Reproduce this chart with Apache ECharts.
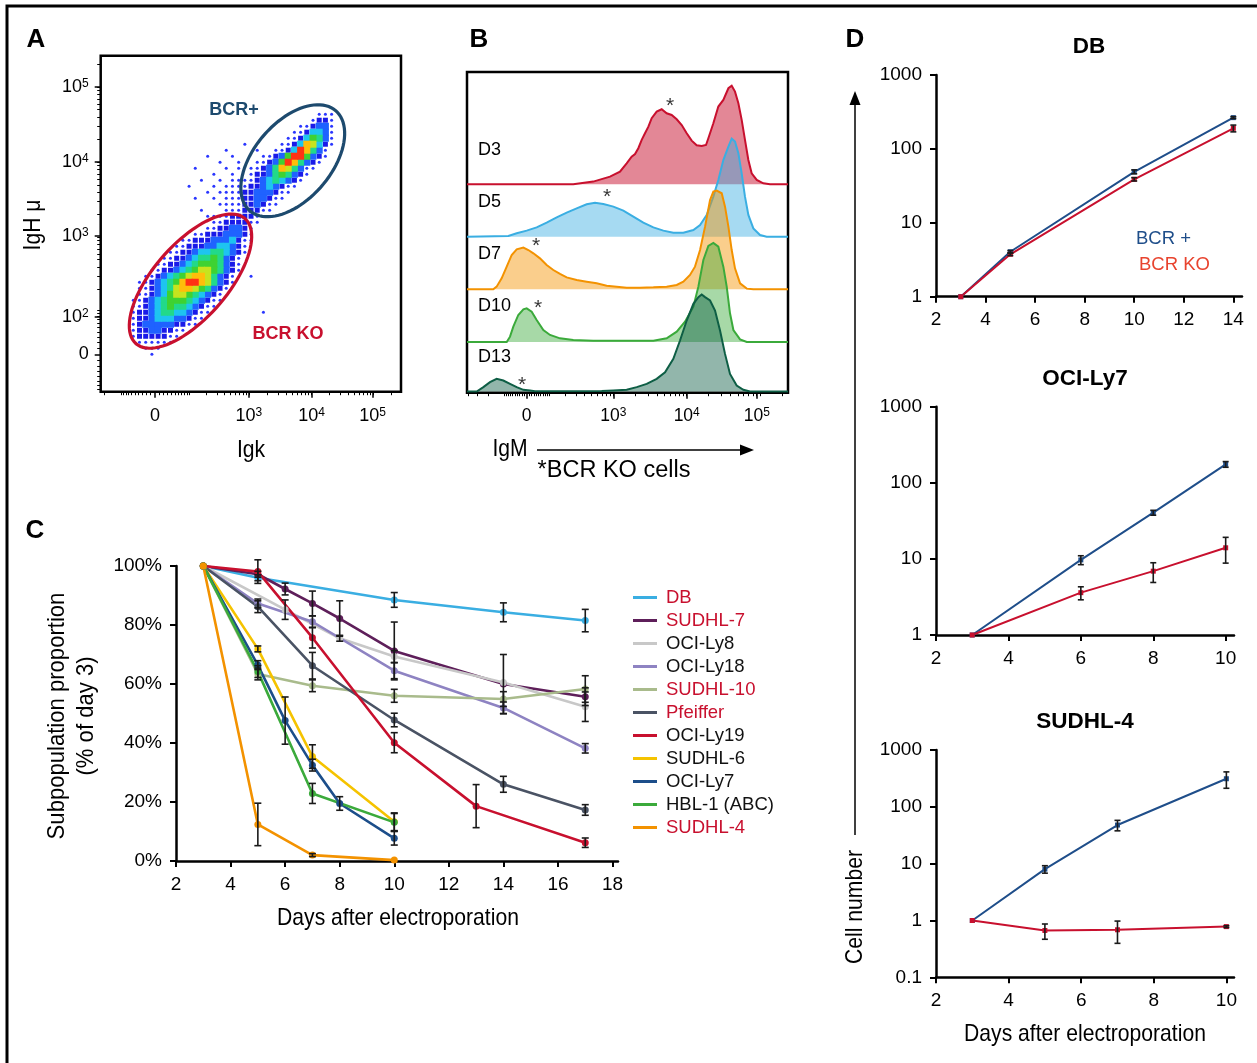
<!DOCTYPE html>
<html><head><meta charset="utf-8">
<script src="https://cdn.jsdelivr.net/npm/echarts@6/dist/echarts.min.js"></script>
<style>html,body{margin:0;padding:0;background:#fff}#c{width:1257px;height:1063px}</style>
</head><body><div id="c"></div>
<script>
const FONT = "'Liberation Sans', Arial, Helvetica, sans-serif";

// ================= Panel A (flow plot, biexponential display units) =================
const A_X_TICK_POS = [0, 1.516, 2.527, 3.51];
const A_X_TICK_LABELS = ['0', '10{s|3}', '10{s|4}', '10{s|5}'];
const A_Y_TICK_POS = [0, 0.501, 1.577, 2.568, 3.568];
const A_Y_TICK_LABELS = ['0', '10{s|2}', '10{s|3}', '10{s|4}', '10{s|5}'];
// density grid: [row, firstColumn, levels 1-9]
const A_CELL_X0 = -0.45, A_CELL_DX = 0.1, A_CELL_Y0 = 3.44, A_CELL_DY = 0.08;
const A_DENSITY_ROWS = [
 [3,31,'111'],[4,30,'1221'],[5,28,'112331'],[6,27,'1124431'],[7,26,'11246531'],
 [8,25,'112487421'],[9,24,'112498531'],[10,22,'11236996321'],[11,21,'11236985321'],
 [12,20,'11235875311'],[13,20,'1223565321'],[14,19,'1123454321'],[15,19,'122343211'],
 [16,18,'122333211'],[17,18,'12233211'],[18,18,'1223211'],[19,18,'122211'],
 [20,15,'1122221'],[21,14,'11222211'],[22,13,'11223321'],[23,11,'1122233321'],
 [24,9,'11222333421'],[25,8,'112223344321'],[26,7,'1122344554321'],[27,6,'1122345565321'],
 [28,5,'11223456665321'],[29,4,'112234567765321'],[30,3,'112345678875321'],
 [31,2,'1123456899875321'],[32,2,'112345788765321'],[33,2,'11234677654321'],
 [34,1,'112345666543211'],[35,1,'11234565543211'],[36,1,'1223455443211'],
 [37,1,'122344433211'],[38,1,'12333332211'],[39,1,'122332211'],[40,1,'12222211'],
 [41,2,'111111'],[42,3,'111'],[43,4,'1']
];
const A_SPARSE = [[16,9],[13,10],[17,10],[15,11],[18,11],[11,12],[16,12],[18,12],[14,13],[17,13],
 [12,14],[15,14],[17,14],[18,14],[10,15],[14,15],[16,15],[17,15],[18,15],[13,16],[15,16],[16,16],
 [17,16],[11,17],[14,17],[16,17],[17,17],[15,18],[16,18],[17,18],[12,19],[16,19],[17,19],[13,20],
 [14,20],[20,30],[22,36],[20,24],[19,8],[21,9]];
// gates: centre, end of first semi-axis, end of second semi-axis (display units)
const A_GATE_BCR = [2.223, 2.58, 2.916, 3.247, 2.694, 2.245];
const A_GATE_KO  = [0.573, 0.975, 1.452, 1.809, 1.023, 0.651];

// ================= Panel B (histograms, [display unit, % of mode]) =================
const B_TICK_POS = [0, 1.18, 2.18, 3.134];
const B_TICK_LABELS = ['0', '10{s|3}', '10{s|4}', '10{s|5}'];
const B_NAMES = ['D3', 'D5', 'D7', 'D10', 'D13'];
const B_D3 = [[-0.82,0],[0.635,0],[0.907,2.7],[1.135,7.7],[1.271,12.8],[1.362,21.2],[1.43,27.9],[1.476,30.6],[1.521,36.4],[1.567,44.8],[1.612,51.5],[1.658,58.2],[1.703,66.7],[1.771,73.4],[1.839,75.8],[1.907,71.7],[1.975,70.0],[2.044,65.7],[2.112,59.9],[2.18,51.5],[2.248,44.1],[2.316,39.4],[2.384,38.7],[2.443,39.7],[2.475,46.5],[2.543,61.6],[2.611,78.5],[2.679,85.2],[2.748,97.0],[2.793,99.5],[2.838,93.6],[2.884,81.8],[2.929,65.0],[2.974,44.8],[3.02,24.6],[3.065,11.1],[3.134,4.4],[3.224,1.0],[3.315,0],[3.57,0]];
const B_D5 = [[-0.82,0],[-0.25,0.7],[-0.136,3.4],[0,6.1],[0.136,9.4],[0.272,14.1],[0.409,19.5],[0.545,24.2],[0.681,28.6],[0.817,32.7],[0.931,34.3],[1.044,33.0],[1.181,30.3],[1.317,26.3],[1.453,20.2],[1.589,14.1],[1.726,9.4],[1.862,6.1],[1.998,4.0],[2.134,4.0],[2.271,6.7],[2.362,11.8],[2.452,21.9],[2.543,40.4],[2.611,57.2],[2.679,77.4],[2.748,90.9],[2.793,99.0],[2.838,96.0],[2.884,84.2],[2.929,64.0],[2.974,40.4],[3.02,21.9],[3.088,8.4],[3.179,1.7],[3.27,0],[3.57,0]];
const B_D7 = [[-0.82,0],[-0.455,0],[-0.409,2.7],[-0.341,11.1],[-0.272,22.9],[-0.204,34.7],[-0.136,40.4],[-0.045,42.1],[0.023,39.7],[0.091,36.4],[0.181,31.3],[0.272,24.6],[0.363,19.5],[0.454,15.5],[0.545,12.1],[0.681,9.4],[0.817,7.7],[0.954,6.1],[1.09,3.7],[1.226,2.7],[1.362,1.7],[1.544,1.7],[1.726,2.0],[1.907,2.7],[2.044,4.4],[2.134,7.7],[2.225,14.5],[2.293,22.9],[2.362,39.7],[2.43,63.3],[2.498,90.2],[2.543,98.7],[2.589,99.7],[2.657,97.0],[2.702,83.5],[2.748,63.3],[2.793,39.7],[2.838,21.2],[2.907,6.1],[2.998,0.7],[3.088,0],[3.57,0]];
const B_D10 = [[-0.82,0],[-0.272,0],[-0.227,5.4],[-0.182,15.5],[-0.114,27.3],[-0.045,33.0],[0,34.0],[0.068,30.6],[0.136,22.2],[0.227,12.1],[0.318,7.1],[0.454,3.7],[0.635,2.0],[0.907,1.3],[1.362,1.3],[1.726,1.3],[1.907,3.7],[2.044,10.4],[2.157,20.5],[2.271,35.7],[2.339,55.9],[2.407,82.8],[2.475,97.0],[2.543,100],[2.611,96.3],[2.679,76.1],[2.725,55.9],[2.77,29.0],[2.816,12.1],[2.907,2.7],[2.998,0],[3.57,0]];
const B_D13 = [[-0.82,0],[-0.681,0],[-0.59,4.4],[-0.5,9.4],[-0.409,12.8],[-0.318,11.1],[-0.227,7.7],[-0.136,4.4],[-0.045,1.7],[0.045,1.0],[0.114,0.3],[1.022,0.5],[1.181,1.0],[1.362,1.7],[1.499,4.4],[1.635,7.7],[1.771,12.8],[1.885,19.5],[1.998,33.0],[2.089,51.5],[2.18,71.7],[2.271,88.6],[2.339,95.3],[2.384,98.0],[2.43,95.3],[2.498,91.9],[2.566,81.8],[2.634,61.6],[2.702,38.0],[2.77,17.8],[2.861,6.1],[2.952,1.7],[3.043,0],[3.57,0]];
const B_STARS = [[1.952,84.1],[1.094,45.2],[0.127,48.8],[0.154,39.4],[-0.064,11.6]];

// ================= Panel C ([day, % of day 3, error]) =================
const C_X_TICKS = [2,4,6,8,10,12,14,16,18];
const C_NAMES = ['DB','SUDHL-7','OCI-Ly8','OCI-Ly18','SUDHL-10','Pfeiffer','OCI-Ly19','SUDHL-6','OCI-Ly7','HBL-1 (ABC)','SUDHL-4'];
const C_DB       = [[3,100,0],[5,96,1],[10,88.5,2.5],[14,84.3,3.2],[17,81.5,3.8]];
const C_SUDHL7   = [[3,100,0],[5,97.2,1],[6,92.2,2],[7,87.3,4.2],[8,82.2,6],[10,71.2,9.8],[14,60,10],[17,55.7,3]];
const C_OCILY8   = [[3,100,0],[6,85.2,3.3],[8,75.5,1],[10,69.3,2],[14,60.5,0],[17,52.3,5]];
const C_OCILY18  = [[3,100,0],[5,87.3,1.5],[7,81.1,2],[10,64.5,2.7],[14,51.9,2],[17,38.2,1.6]];
const C_SUDHL10  = [[3,100,0],[5,63.4,2],[7,59.4,2],[10,56,2.2],[14,54.9,2.5],[17,58.3,4.5]];
const C_PFEIFFER = [[3,100,0],[5,86.2,2],[7,66.2,4.5],[10,47.8,2.3],[14,26,2.7],[17,17.3,1.8]];
const C_OCILY19  = [[3,100,0],[5,98.1,4],[7,75.7,3.5],[10,40.1,3.4],[13,18.6,7.3],[17,6.2,1.6]];
const C_SUDHL6   = [[3,100,0],[5,71.9,1],[7,35.4,4],[10,13.3,3]];
const C_OCILY7   = [[3,100,0],[5,66.4,1.5],[6,47.6,8],[7,32.5,2],[8,19.5,2.3],[10,7.7,2.3]];
const C_HBL1     = [[3,100,0],[5,64.2,2],[7,22.9,3.4],[10,13.1,3]];
const C_SUDHL4   = [[3,100,0],[5,12.4,7.2],[7,2,0.5],[10,0.3,0]];

// ================= Panel D ([day, cell number, error]) =================
const D_DB_BCR   = [[3,1,0],[5,4.06,0.15],[10,49,3],[14,265,8]];
const D_DB_KO    = [[3,1,0],[5,3.75,0.15],[10,38.8,2],[14,190,20]];
const D_LY7_BCR  = [[3,1,0],[6,9.7,1.3],[8,40.5,3],[10,175,15]];
const D_LY7_KO   = [[3,1,0],[6,3.6,0.7],[8,6.9,2],[10,14,5.2]];
const D_DHL4_BCR = [[3,1,0],[5,8,1.2],[7,47.8,10],[10,312,100]];
const D_DHL4_KO  = [[3,1,0],[5,0.667,0.2],[7,0.686,0.29],[10,0.78,0.03]];
const D_X_TICKS_14 = [2,4,6,8,10,12,14];
const D_X_TICKS_10 = [2,4,6,8,10];

// ================= styles =================
const C_COLORS = ['#3aaee2','#5e1f5a','#c8c8c8','#8e83c2','#a9bb8c','#4a5364','#c8102e','#f5c300','#1c4e8a','#3baa3b','#f39200'];
const C_TEXT_COLORS = ['#c8102e','#c8102e','#111','#111','#c8102e','#c8102e','#111','#111','#111','#111','#c8102e'];
const B_LINE = ['#c8102e','#3aaee2','#f39200','#3baa3b','#0e5e45'];
const B_FILL = ['rgba(200,16,46,0.5)','rgba(58,174,226,0.45)','rgba(243,146,0,0.45)','rgba(59,170,59,0.45)','rgba(14,94,69,0.45)'];
const B_OFFSET = [210.5, 157.6, 104.4, 51.2, 1.2];
const A_LEVEL_COLORS = [null,'#2a36ff','#1a1ae8','#1f62ff','#1ec4f0','#22d98a','#3ed232','#c6e41e','#ffbe0a','#ff3214'];
const A_LEVEL_SIZE = [0,3,5,7,7,7,7,7,7,7];
const BLUE = '#1f4e8a', RED = '#c8102e';

// ---------- helpers ----------
const biex = (v, C) => Math.asinh(v / C) / Math.LN10;
function minorTicks(C, lo, hi) {
  const out = [];
  [1e1,1e2,1e3,1e4,1e5].forEach(d => { for (let m = 1; m <= 9; m++) { out.push(biex(m*d, C), biex(-m*d, C)); } });
  return out.filter(u => u > lo && u < hi);
}
function pick(pos, labels) {
  return v => { let bi = 0, bd = 1e9; pos.forEach((p, i) => { const d = Math.abs(p - v); if (d < bd) { bd = d; bi = i; } }); return labels[bi]; };
}
const SUP = { s: { fontSize: 12, verticalAlign: 'top', fontFamily: FONT, color: '#000' } };
function errRender(cap) {
  return function (params, api) {
    const x = api.value(0), lo = api.value(1), hi = api.value(2);
    const a = api.coord([x, lo]), b = api.coord([x, hi]);
    const st = { stroke: '#1a1a1a', lineWidth: 1.6 };
    return { type: 'group', children: [
      { type: 'line', shape: { x1: a[0], y1: a[1], x2: b[0], y2: b[1] }, style: st },
      { type: 'line', shape: { x1: a[0]-cap, y1: a[1], x2: a[0]+cap, y2: a[1] }, style: st },
      { type: 'line', shape: { x1: b[0]-cap, y1: b[1], x2: b[0]+cap, y2: b[1] }, style: st }
    ]};
  };
}
const errData = arrs => { const o = []; arrs.forEach(a => a.forEach(d => { if (d[2] > 0) o.push([d[0], Math.max(d[1]-d[2], 1e-6), d[1]+d[2]]); })); return o; };

// ---------- Panel A density data ----------
const aData = [];
A_DENSITY_ROWS.forEach(([r, c0, s]) => { for (let k = 0; k < s.length; k++) { const lv = +s[k]; if (lv > 0) aData.push([A_CELL_X0 + (c0+k)*A_CELL_DX, A_CELL_Y0 - r*A_CELL_DY, lv]); } });
A_SPARSE.forEach(([c, r]) => aData.push([A_CELL_X0 + c*A_CELL_DX, A_CELL_Y0 - r*A_CELL_DY, 1]));
aData.sort((p, q) => p[2] - q[2]);

const B_CURVES = [B_D3, B_D5, B_D7, B_D10, B_D13];
const C_SERIES = [C_DB, C_SUDHL7, C_OCILY8, C_OCILY18, C_SUDHL10, C_PFEIFFER, C_OCILY19, C_SUDHL6, C_OCILY7, C_HBL1, C_SUDHL4];

// ---------- axes ----------
const noSplit = { show: false };
const blk = (w) => ({ color: '#000', width: w });
const hideLine = { show: false, onZero: false };
const xAxes = [
  // 0 A major
  { gridIndex: 0, type: 'value', position: 'bottom', min: -0.876, max: 3.97, axisLine: hideLine, splitLine: noSplit,
    axisTick: { show: true, length: 6, customValues: A_X_TICK_POS, lineStyle: blk(1.5) },
    axisLabel: { customValues: A_X_TICK_POS, formatter: pick(A_X_TICK_POS, A_X_TICK_LABELS), margin: 15, fontSize: 18, color: '#000', fontFamily: FONT, rich: SUP } },
  // 1 A minor
  { gridIndex: 0, type: 'value', position: 'bottom', min: -0.876, max: 3.97, axisLine: hideLine, splitLine: noSplit,
    axisTick: { show: true, length: 3.5, customValues: minorTicks(61, -0.876, 3.97), lineStyle: blk(1) }, axisLabel: { show: false } },
  // 2 B major
  { gridIndex: 1, type: 'value', position: 'bottom', min: -0.813, max: 3.56, axisLine: hideLine, splitLine: noSplit,
    axisTick: { show: true, length: 6, customValues: B_TICK_POS, lineStyle: blk(1.5) },
    axisLabel: { customValues: B_TICK_POS, formatter: pick(B_TICK_POS, B_TICK_LABELS), margin: 14, fontSize: 17.5, color: '#000', fontFamily: FONT, rich: SUP } },
  // 3 B minor
  { gridIndex: 1, type: 'value', position: 'bottom', min: -0.813, max: 3.56, axisLine: hideLine, splitLine: noSplit,
    axisTick: { show: true, length: 3.5, customValues: minorTicks(133, -0.813, 3.56), lineStyle: blk(1) }, axisLabel: { show: false } },
  // 4 C
  { gridIndex: 2, type: 'value', min: 2, max: 18.2, splitLine: noSplit, axisLine: { onZero: false, lineStyle: blk(2.5) },
    axisTick: { length: 6, customValues: C_X_TICKS, lineStyle: blk(2) },
    axisLabel: { customValues: C_X_TICKS, margin: 14, fontSize: 19, color: '#000', fontFamily: FONT } },
  // 5-7 D
  { gridIndex: 3, type: 'value', min: 2, max: 14.35, splitLine: noSplit, axisLine: { onZero: false, lineStyle: blk(2.5) },
    axisTick: { length: 6, customValues: D_X_TICKS_14, lineStyle: blk(2) },
    axisLabel: { customValues: D_X_TICKS_14, margin: 14, fontSize: 19, color: '#000', fontFamily: FONT } },
  { gridIndex: 4, type: 'value', min: 2, max: 10.23, splitLine: noSplit, axisLine: { onZero: false, lineStyle: blk(2.5) },
    axisTick: { length: 6, customValues: D_X_TICKS_10, lineStyle: blk(2) },
    axisLabel: { customValues: D_X_TICKS_10, margin: 14, fontSize: 19, color: '#000', fontFamily: FONT } },
  { gridIndex: 5, type: 'value', min: 2, max: 10.21, splitLine: noSplit, axisLine: { onZero: false, lineStyle: blk(2.5) },
    axisTick: { length: 6, customValues: D_X_TICKS_10, lineStyle: blk(2) },
    axisLabel: { customValues: D_X_TICKS_10, margin: 14, fontSize: 19, color: '#000', fontFamily: FONT } }
];
const logFmt = v => (v < 1 ? String(Math.round(v*10)/10) : String(Math.round(v)));
const dLogY = (gi, mn) => ({ gridIndex: gi, type: 'log', logBase: 10, min: mn, max: 1000, splitLine: noSplit,
  axisLine: { onZero: false, lineStyle: blk(2.5) }, axisTick: { length: 6, lineStyle: blk(2) }, minorTick: { show: false },
  axisLabel: { formatter: logFmt, margin: 14, fontSize: 19, color: '#000', fontFamily: FONT } });
const yAxes = [
  // 0 A major
  { gridIndex: 0, type: 'value', position: 'left', min: -0.499, max: 3.98, axisLine: hideLine, splitLine: noSplit,
    axisTick: { show: true, length: 6, customValues: A_Y_TICK_POS, lineStyle: blk(1.5) },
    axisLabel: { customValues: A_Y_TICK_POS, formatter: pick(A_Y_TICK_POS, A_Y_TICK_LABELS), margin: 12, fontSize: 18, color: '#000', fontFamily: FONT, rich: SUP } },
  // 1 A minor
  { gridIndex: 0, type: 'value', position: 'left', min: -0.499, max: 3.98, axisLine: hideLine, splitLine: noSplit,
    axisTick: { show: true, length: 3.5, customValues: minorTicks(55, -0.499, 3.98), lineStyle: blk(1) }, axisLabel: { show: false } },
  // 2 B
  { gridIndex: 1, type: 'value', min: 0, max: 323.9, show: false },
  // 3 C
  { gridIndex: 2, type: 'value', min: 0, max: 100, interval: 20, splitLine: noSplit, axisLine: { show: true, onZero: false, lineStyle: blk(2.5) },
    axisTick: { show: true, length: 6, lineStyle: blk(2) },
    axisLabel: { formatter: v => v + '%', margin: 14, fontSize: 19, color: '#000', fontFamily: FONT } },
  dLogY(3, 1), dLogY(4, 1), dLogY(5, 0.1)
];

// ---------- series ----------
const series = [];
series.push({ type: 'scatter', xAxisIndex: 0, yAxisIndex: 0, data: aData, z: 2, silent: true,
  symbol: v => (v[2] <= 1 ? 'circle' : 'rect'), symbolSize: v => A_LEVEL_SIZE[v[2]],
  itemStyle: { color: p => A_LEVEL_COLORS[p.value[2]], opacity: 1 } });
const GATE_COLORS = ['#1d4a6e', '#c8102e'];
series.push({ type: 'custom', xAxisIndex: 0, yAxisIndex: 0, data: [A_GATE_BCR, A_GATE_KO], encode: { x: [0,2,4], y: [1,3,5] }, z: 4, silent: true,
  renderItem: (params, api) => {
    const c = api.coord([api.value(0), api.value(1)]), p1 = api.coord([api.value(2), api.value(3)]), p2 = api.coord([api.value(4), api.value(5)]);
    const pts = [];
    for (let k = 0; k <= 90; k++) { const t = k / 90 * 2 * Math.PI, ct = Math.cos(t), st = Math.sin(t);
      pts.push([c[0] + ct*(p1[0]-c[0]) + st*(p2[0]-c[0]), c[1] + ct*(p1[1]-c[1]) + st*(p2[1]-c[1])]); }
    return { type: 'polygon', shape: { points: pts }, style: { fill: 'none', stroke: GATE_COLORS[params.dataIndex], lineWidth: 3.2 } };
  } });
series.push({ type: 'custom', xAxisIndex: 2, yAxisIndex: 2, clip: true, silent: true, z: 2,
  data: B_NAMES.map((n, i) => [0, B_OFFSET[i], i]), encode: { x: 0, y: 1 },
  renderItem: (params, api) => {
    const i = params.dataIndex, off = B_OFFSET[i];
    const pts = B_CURVES[i].map(([u, h]) => api.coord([u, off + h]));
    return { type: 'group', children: [
      { type: 'polygon', shape: { points: pts }, style: { fill: B_FILL[i] } },
      { type: 'polyline', shape: { points: pts }, style: { fill: 'none', stroke: B_LINE[i], lineWidth: 2 } }
    ]};
  } });
series.push({ type: 'scatter', xAxisIndex: 2, yAxisIndex: 2, silent: true, z: 5, symbolSize: 0,
  data: B_STARS.map(([u, h], i) => [u, B_OFFSET[i] + h]),
  label: { show: true, position: 'inside', formatter: '*', fontSize: 21, color: '#000', fontFamily: FONT, offset: [0, 5] } });
C_SERIES.forEach((arr, i) => series.push({ type: 'line', name: C_NAMES[i], xAxisIndex: 4, yAxisIndex: 3, z: 3,
  data: arr.map(d => [d[0], d[1]]), symbol: 'circle', symbolSize: 7, showSymbol: true,
  lineStyle: { width: 2.6, color: C_COLORS[i] }, itemStyle: { color: C_COLORS[i] } }));
series.push({ type: 'custom', xAxisIndex: 4, yAxisIndex: 3, z: 4, silent: true, data: errData(C_SERIES), encode: { x: 0, y: [1,2] }, renderItem: errRender(3.5) });
const dPanels = [[D_DB_BCR, D_DB_KO, 5, 4], [D_LY7_BCR, D_LY7_KO, 6, 5], [D_DHL4_BCR, D_DHL4_KO, 7, 6]];
dPanels.forEach(([bcr, ko, xi, yi], k) => {
  [[bcr, BLUE, 'BCR+ ' + k], [ko, RED, 'BCR KO ' + k]].forEach(([arr, col, nm]) => series.push({ type: 'line', name: nm, xAxisIndex: xi, yAxisIndex: yi, z: 3,
    data: arr.map(d => [d[0], d[1]]), symbol: 'rect', symbolSize: 5, lineStyle: { width: 2, color: col }, itemStyle: { color: col } }));
  series.push({ type: 'custom', xAxisIndex: xi, yAxisIndex: yi, z: 4, silent: true, data: errData([bcr, ko]), encode: { x: 0, y: [1,2] }, renderItem: errRender(3) });
});

// ---------- text / decorations ----------
function T(text, x, y, o) {
  o = o || {};
  return { type: 'text', x: x, y: y, rotation: o.rot || 0, scaleX: o.sx || 1, z: 20, silent: true,
    style: { text: text, fill: o.color || '#000', fontSize: o.size || 18, fontFamily: FONT, fontWeight: o.bold ? 'bold' : 'normal',
      align: o.align || 'center', verticalAlign: 'middle', lineHeight: o.lh || undefined } };
}
const R90 = Math.PI / 2, NX = 0.88;
const graphic = [
  { type: 'polyline', z: 20, silent: true, shape: { points: [[7, 1063], [7, 6], [1257, 6]] }, style: { stroke: '#000', lineWidth: 3, fill: 'none' } },
  T('A', 36, 40, { size: 26, bold: true }), T('B', 479, 40, { size: 26, bold: true }),
  T('C', 35, 531, { size: 26, bold: true }), T('D', 855, 40, { size: 26, bold: true }),
  // A
  T('Igk', 251, 450, { size: 24, sx: NX }), T('IgH \u03bc', 33, 225, { size: 24, sx: NX, rot: R90 }),
  T('BCR+', 234, 110, { size: 18, bold: true, color: '#1d4a6e' }), T('BCR KO', 288, 334, { size: 18, bold: true, color: '#c8102e' }),
  // B
  T('D3', 478, 150, { align: 'left' }), T('D5', 478, 202, { align: 'left' }), T('D7', 478, 254, { align: 'left' }),
  T('D10', 478, 306, { align: 'left' }), T('D13', 478, 357, { align: 'left' }),
  T('IgM', 510, 449, { size: 24, sx: NX }),
  { type: 'line', z: 20, silent: true, shape: { x1: 537, y1: 450, x2: 745, y2: 450 }, style: { stroke: '#000', lineWidth: 1.5 } },
  { type: 'polygon', z: 20, silent: true, shape: { points: [[754, 450], [740, 444.5], [740, 455.5]] }, style: { fill: '#000' } },
  T('*BCR KO cells', 614, 471, { size: 23.5 }),
  // C
  T('Subpopulation proportion\n(% of day 3)', 72, 716, { size: 24, sx: 0.92, rot: R90, lh: 29 }),
  T('Days after electroporation', 398, 918, { size: 24, sx: NX }),
  // D
  T('DB', 1089, 47, { size: 22.5, bold: true }), T('OCI-Ly7', 1085, 379, { size: 22.5, bold: true }), T('SUDHL-4', 1085, 722, { size: 22.5, bold: true }),
  T('BCR +', 1136, 239, { size: 18.5, align: 'left', color: '#1f4e8a' }), T('BCR KO', 1139, 265, { size: 18.5, align: 'left', color: '#e8432e' }),
  T('Cell number', 855, 907, { size: 24, sx: NX, rot: R90 }),
  { type: 'line', z: 20, silent: true, shape: { x1: 855, y1: 100, x2: 855, y2: 835 }, style: { stroke: '#000', lineWidth: 1.5 } },
  { type: 'polygon', z: 20, silent: true, shape: { points: [[855, 91], [849.5, 105], [860.5, 105]] }, style: { fill: '#000' } },
  T('Days after electroporation', 1085, 1034, { size: 24, sx: NX })
];

const option = {
  animation: false,
  backgroundColor: '#fff',
  textStyle: { fontFamily: FONT },
  grid: [
    { left: 100.7, top: 55.7, width: 300.3, height: 336, show: true, borderColor: '#000', borderWidth: 2.5, backgroundColor: 'transparent' },
    { left: 467, top: 72, width: 321, height: 320.7, show: true, borderColor: '#000', borderWidth: 2.5, backgroundColor: 'transparent' },
    { left: 176, top: 566, width: 442, height: 295 },
    { left: 936, top: 75, width: 306, height: 221.7 },
    { left: 936, top: 406.7, width: 298, height: 228.3 },
    { left: 936, top: 750, width: 298, height: 227.3 }
  ],
  xAxis: xAxes,
  yAxis: yAxes,
  legend: { data: C_NAMES.map((n, i) => ({ name: n, textStyle: { color: C_TEXT_COLORS[i] } })), left: 628, top: 583, orient: 'vertical',
    icon: 'rect', itemWidth: 24, itemHeight: 3, itemGap: 4, selectedMode: false,
    textStyle: { fontSize: 18.5, fontFamily: FONT, lineHeight: 18, padding: [0, 0, 0, 4] } },
  series: series,
  graphic: graphic
};
const chart = echarts.init(document.getElementById('c'), null, { renderer: 'canvas', width: 1257, height: 1063 });
chart.setOption(option);
</script></body></html>
